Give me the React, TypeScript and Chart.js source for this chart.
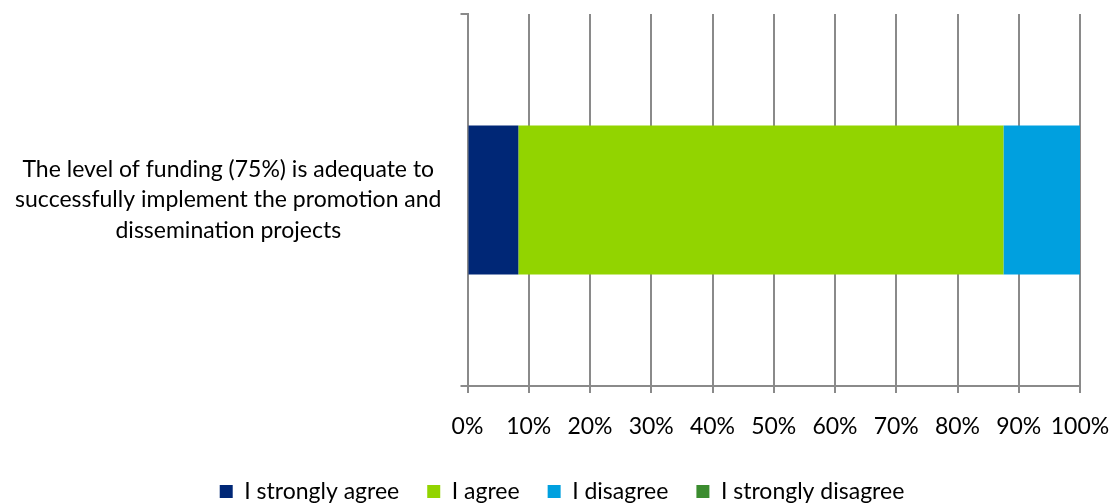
import React, { useEffect, useRef } from "react";
import { Chart, registerables } from "chart.js";

Chart.register(...registerables);

const categoryLines = [
  "The level of funding (75%) is adequate to",
  "successfully implement the promotion and",
  "dissemination projects",
];
const seriesNames = ["I strongly agree", "I agree", "I disagree", "I strongly disagree"];
const stronglyAgree = [8.3];
const agree = [79.2];
const disagree = [12.5];
const stronglyDisagree = [0];
const seriesColors = ["#002776", "#92D400", "#00A0DF", "#3B8C2F"];
const xTicks = [0, 10, 20, 30, 40, 50, 60, 70, 80, 90, 100];

const FONT = "Lato, 'Open Sans', sans-serif";
const GRID = "#8a8a8a";

const legendShift = {
  id: "legendShift",
  afterLayout(chart: any) {
    if (chart.legend) {
      chart.legend.left += 22;
      chart.legend.right += 22;
    }
  },
};

export default function App() {
  const ref = useRef<HTMLCanvasElement | null>(null);

  useEffect(() => {
    document.body.style.margin = "0";
    document.body.style.overflow = "hidden";
    if (!ref.current) return;
    const values = [stronglyAgree, agree, disagree, stronglyDisagree];
    const chart = new Chart(ref.current, {
      type: "bar",
      data: {
        labels: [categoryLines],
        datasets: seriesNames.map((name, i) => ({
          label: name,
          data: values[i],
          backgroundColor: seriesColors[i],
          borderWidth: 0,
          barPercentage: 0.5,
          categoryPercentage: 0.8,
        })),
      },
      plugins: [legendShift],
      options: {
        indexAxis: "y",
        animation: false,
        responsive: true,
        maintainAspectRatio: false,
        layout: { padding: { left: 0, right: 32, top: 14, bottom: -10 } },
        plugins: {
          tooltip: { enabled: false },
          legend: {
            position: "bottom",
            labels: {
              boxWidth: 13,
              boxHeight: 13,
              padding: 28,
              color: "#000",
              font: { family: FONT, size: 23 },
            },
          },
        },
        scales: {
          x: {
            stacked: true,
            min: 0,
            max: 100,
            afterBuildTicks: (scale: any) => {
              scale.ticks = xTicks.map((v) => ({ value: v }));
            },
            afterFit: (scale: any) => {
              scale.height = 66;
              scale.paddingLeft = 0;
              scale.paddingRight = 0;
            },
            ticks: {
              color: "#000",
              padding: 20,
              maxRotation: 0,
              autoSkip: false,
              font: { family: FONT, size: 23 },
              callback: (v: any) => v + "%",
            },
            grid: { color: GRID, lineWidth: 2, tickLength: 7, drawTicks: true },
            border: { color: GRID, width: 2 },
          },
          y: {
            stacked: true,
            afterFit: (scale: any) => {
              scale.width = 467.5;
              scale.paddingTop = 0;
              scale.paddingBottom = 0;
            },
            ticks: {
              color: "#000",
              crossAlign: "center",
              padding: 19,
              font: { family: FONT, size: 23, lineHeight: 1.33 },
            },
            grid: {
              drawOnChartArea: false,
              color: GRID,
              lineWidth: 2,
              tickLength: 7,
              offset: true,
            },
            border: { color: GRID, width: 2 },
          },
        },
      },
    });
    return () => chart.destroy();
  }, []);

  return (
    <div style={{ width: 1112, height: 503, position: "relative" }}>
      <canvas ref={ref} />
    </div>
  );
}
